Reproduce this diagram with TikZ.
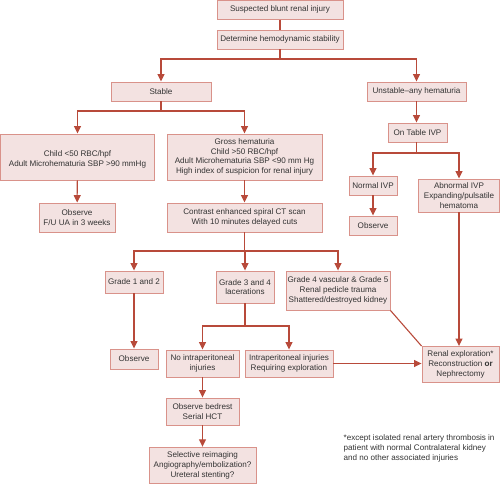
\documentclass[tikz,border=0pt]{standalone}
\usepackage{fontspec}
\setmainfont{Liberation Sans}
\usetikzlibrary{arrows.meta,calc}
\definecolor{boxfill}{HTML}{F3E2E1}
\definecolor{boxdraw}{HTML}{D9928A}
\definecolor{linecol}{HTML}{B84A3A}
\definecolor{txt}{HTML}{333333}
\begin{document}
\begin{tikzpicture}[x=1pt,y=-1pt,
  box/.style={draw=boxdraw,fill=boxfill,line width=0.9pt,inner sep=0pt,align=center,
    text=txt,font=\fontsize{8.1}{9.7}\selectfont},
  boxtext/.style={inner sep=0pt,align=center,text=txt,font=\fontsize{8.1}{9.9}\selectfont},
  link/.style={draw=linecol,line width=1.1pt},
  arr/.style={link,-{Triangle[length=7.5pt,width=7pt]}},
  note/.style={text=txt,align=left,inner sep=0pt,anchor=north west,font=\fontsize{8.1}{10}\selectfont}]
\useasboundingbox (0,0) rectangle (500,484);
% boxes
\node[box,minimum width=126,minimum height=19] (top) at (280,9.8) {Suspected blunt renal injury};
\node[box,minimum width=126,minimum height=19] (det) at (280,39.5) {Determine hemodynamic stability};
\node[box,minimum width=100,minimum height=19] (stable) at (161,91.5) {Stable};
\node[box,minimum width=99,minimum height=19] (unst) at (416.5,91.5) {Unstable–any hematuria};
\node[box,minimum width=154,minimum height=46] (child) at (77.5,157) {};
\node[boxtext] (childtxt) at (77.5,159.8) {Child <50 RBC/hpf\\Adult Microhematuria SBP >90 mmHg};
\node[box,minimum width=155,minimum height=46] (gross) at (244.5,157) {Gross hematuria\\Child >50 RBC/hpf\\Adult Microhematuria SBP <90 mm Hg\\High index of suspicion for renal injury};
\node[box,minimum width=59,minimum height=19] (ontable) at (417.5,132.5) {On Table IVP};
\node[box,minimum width=48,minimum height=19] (normal) at (373,185.5) {Normal IVP};
\node[box,minimum width=48,minimum height=19] (obs3) at (373,225.5) {Observe};
\node[box,minimum width=81,minimum height=33] (abn) at (459,195.5) {Abnormal IVP\\Expanding/pulsatile\\hematoma};
\node[box,minimum width=76,minimum height=29] (obsfu) at (77,217.5) {Observe\\F/U UA in 3 weeks};
\node[box,minimum width=155,minimum height=29] (ct) at (244.5,217.5) {Contrast enhanced spiral CT scan\\With 10 minutes delayed cuts};
\node[box,minimum width=58,minimum height=22] (g12) at (134,282) {Grade 1 and 2};
\node[box,minimum width=58,minimum height=32] (g34) at (245,287) {Grade 3 and 4\\lacerations};
\node[box,minimum width=104,minimum height=39] (g45) at (338,290.5) {Grade 4 vascular \& Grade 5\\Renal pedicle trauma\\Shattered/destroyed kidney};
\node[box,minimum width=48,minimum height=20] (obs2) at (134,359) {Observe};
\node[box,minimum width=73,minimum height=27] (noip) at (202.5,363.5) {No intraperitoneal\\injuries};
\node[box,minimum width=88,minimum height=27] (ip) at (289,363.5) {Intraperitoneal injuries\\Requiring exploration};
\node[box,minimum width=77,minimum height=36] (renal) at (460.5,364.5) {Renal exploration*\\Reconstruction \textbf{or}\\Nephrectomy};
\node[box,minimum width=73,minimum height=27] (bed) at (202.5,411.5) {Observe bedrest\\Serial HCT};
\node[box,minimum width=107,minimum height=36.5] (sel) at (202.5,465.5) {Selective reimaging\\Angiography/embolization?\\Ureteral stenting?};
\node[note] (fn) at (343.5,434.5) {*except isolated renal artery thrombosis in\\patient with normal Contralateral kidney\\and no other associated injuries};
% junctions
\coordinate (j1) at (280,59);
\coordinate (j2) at (161,111);
\coordinate (j3) at (416.5,153);
\coordinate (j4) at (244.5,251);
\coordinate (j5) at (245,326);
% connectors
\draw[link] (top) -- (det);
\draw[link] (det) -- (j1);
\draw[arr] (j1) -| (stable);
\draw[arr] (j1) -| (unst);
\draw[link] (stable) -- (j2);
\draw[arr] (j2) -| (child);
\draw[arr] (j2) -| (gross);
\draw[arr] (unst) -- (unst |- ontable.north);
\draw[link] (ontable.south -| j3) -- (j3);
\draw[arr] (j3) -| (normal);
\draw[arr] (j3) -| (abn);
\draw[arr] (normal) -- (obs3);
\draw[arr] (child) -- (obsfu);
\draw[arr] (gross) -- (ct);
\draw[link] (ct) -- (j4);
\draw[arr] (j4) -| (g12);
\draw[arr] (j4) -| (g34);
\draw[arr] (j4) -| (g45);
\draw[arr] (g12) -- (obs2);
\draw[link] (g34) -- (j5);
\draw[arr] (j5) -| (noip);
\draw[arr] (j5) -| (ip);
\draw[arr] (ip.east) -- (ip.east -| renal.west);
\draw[link] (g45.south east) -- (renal.north west);
\draw[arr] (abn.south) -- (abn.south |- renal.north);
\draw[arr] (noip) -- (bed);
\draw[arr] (bed) -- (sel);
\end{tikzpicture}
\end{document}
